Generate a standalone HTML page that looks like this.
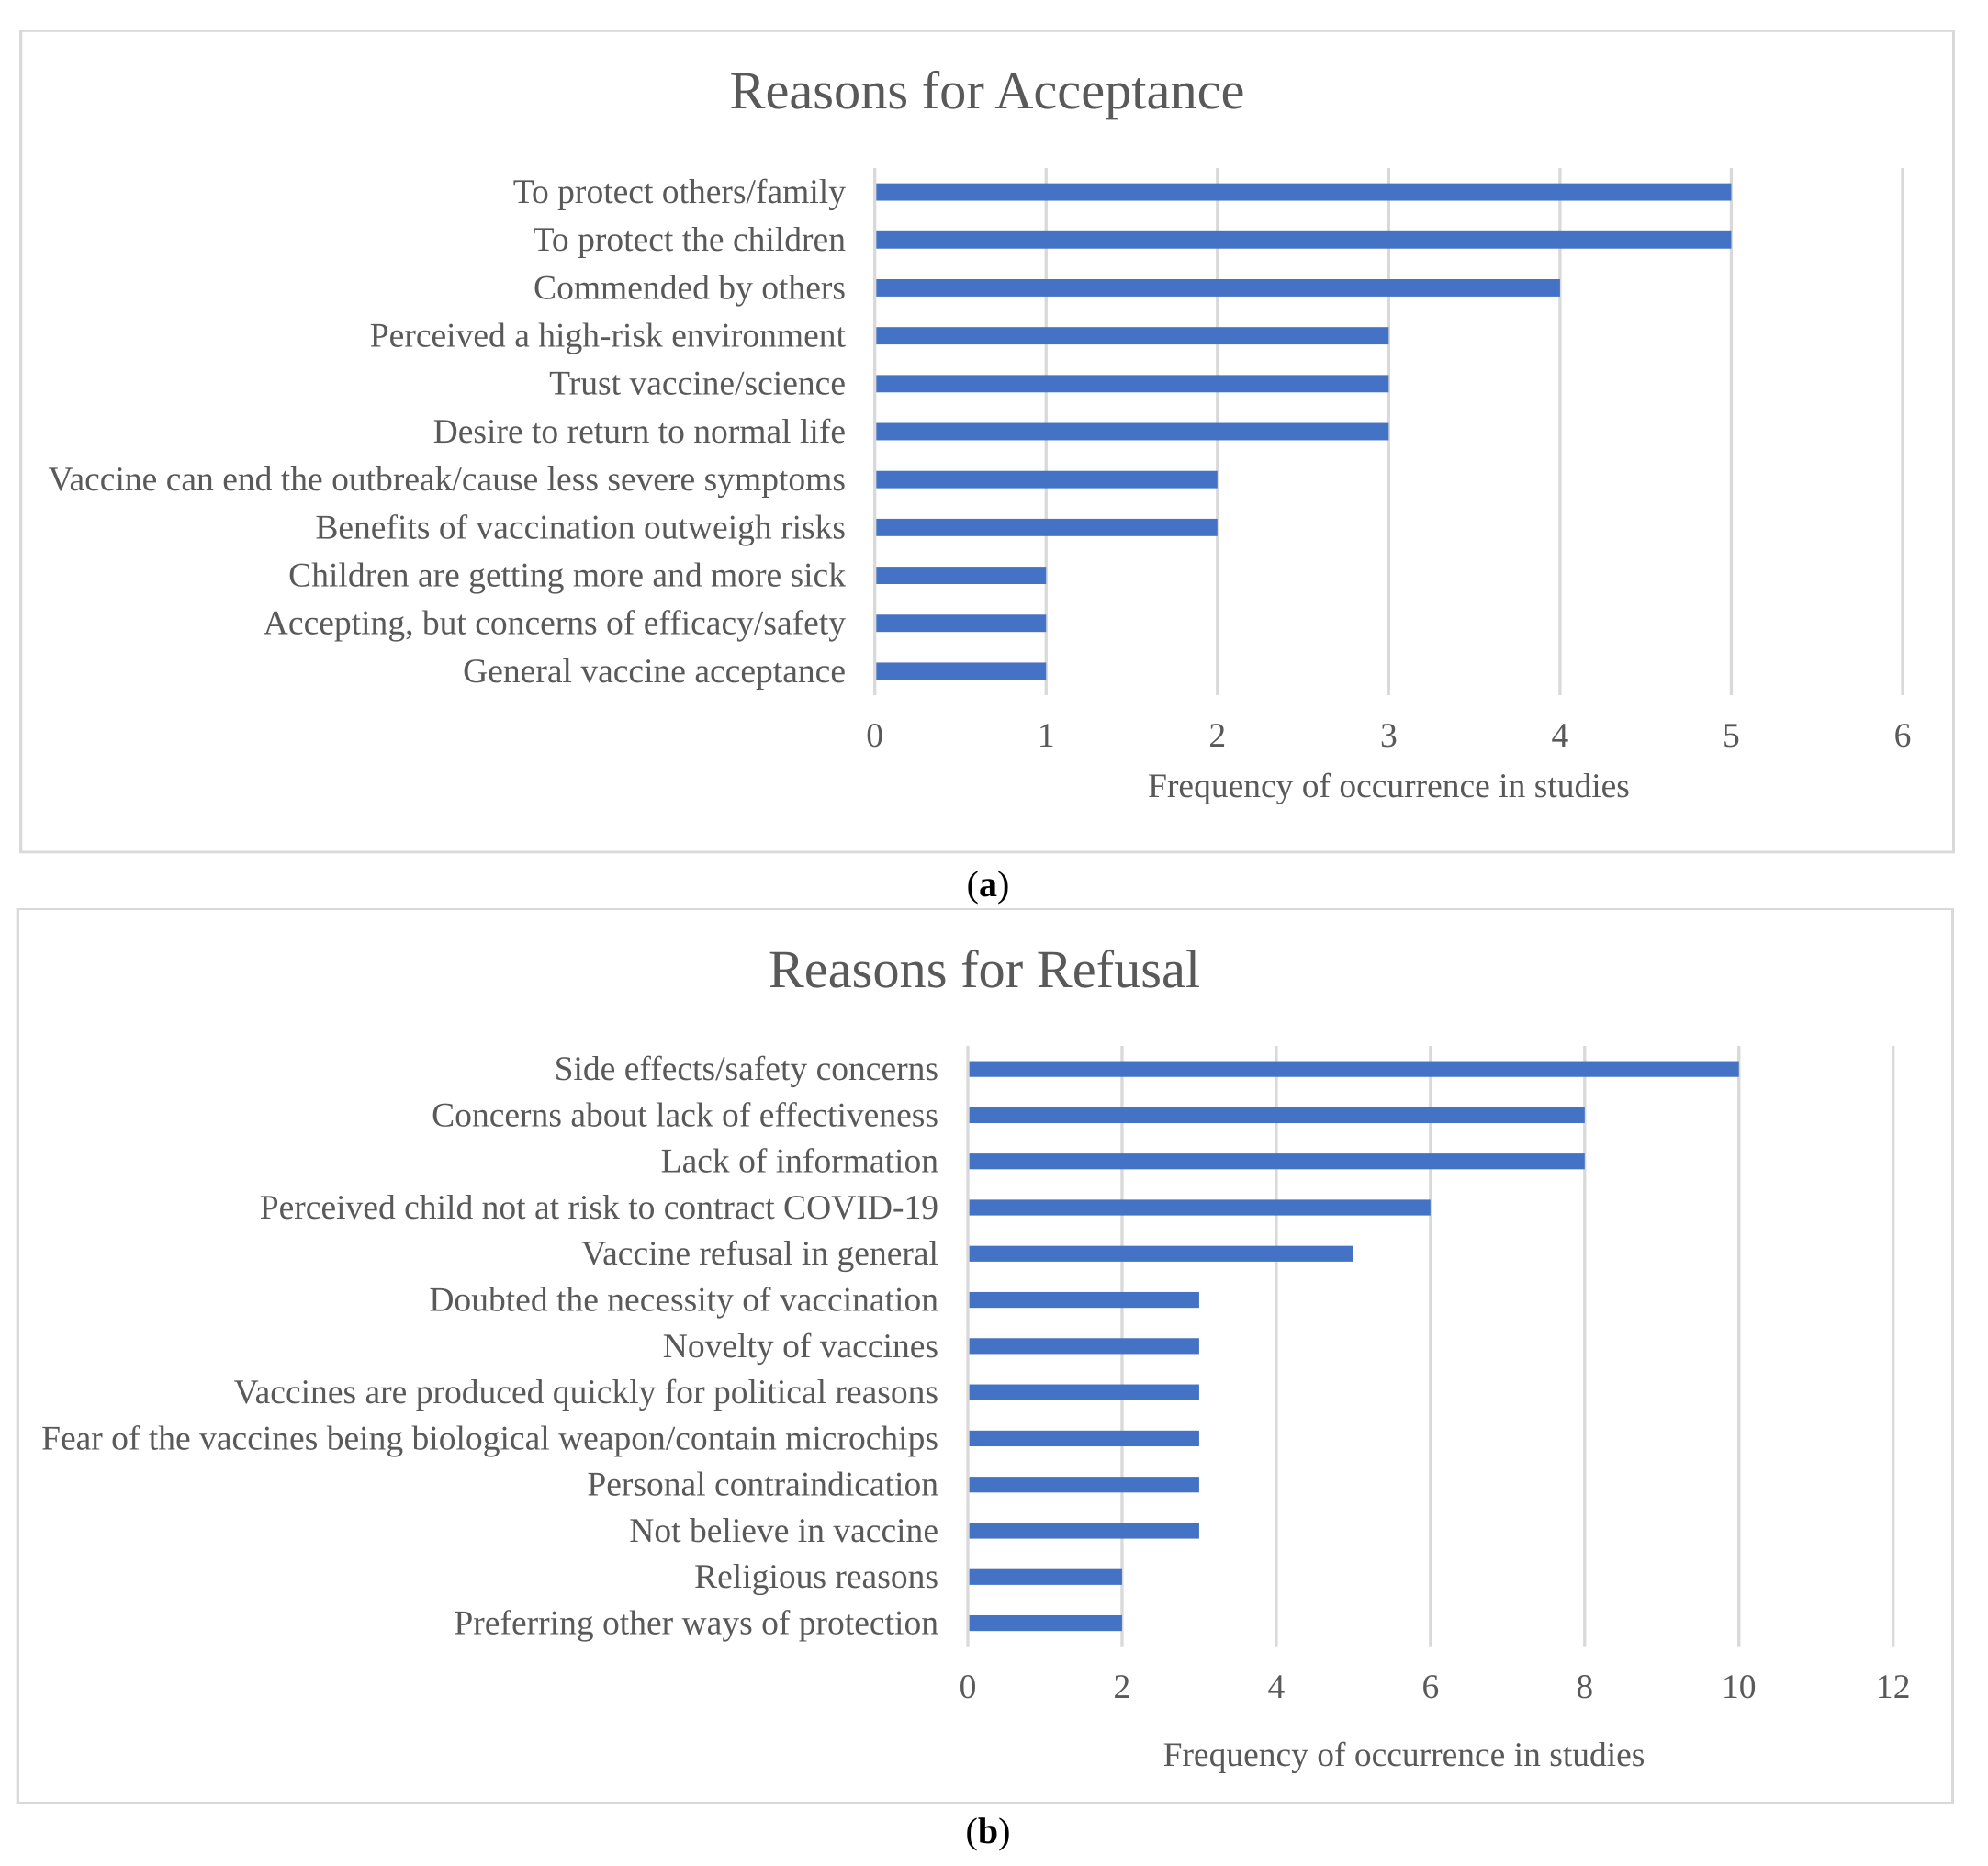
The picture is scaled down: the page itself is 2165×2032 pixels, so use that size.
<!DOCTYPE html>
<html lang="en">
<head>
<meta charset="utf-8">
<title>Reasons for Acceptance and Refusal</title>
<style>
html,body{margin:0;padding:0;background:#fff;}
body{width:2165px;height:2032px;overflow:hidden;}
svg{display:block;}
text{font-family:"Liberation Serif",serif;fill:#595959;text-rendering:geometricPrecision;}
.chart-title{font-size:58.4px;text-anchor:middle;}
.cat{font-size:37.55px;text-anchor:end;}
.tick{font-size:37.55px;text-anchor:middle;}
.axis-title{font-size:37.5px;text-anchor:middle;}
.caption{font-size:40px;text-anchor:middle;fill:#000;}
.frame{fill:#d9d9d9;}
</style>
</head>
<body>
<svg id="fig" xmlns="http://www.w3.org/2000/svg" width="2165" height="2032" viewBox="0 0 2165 2032">
  <g>
    <rect class="frame" x="21" y="33" width="3.3" height="896"/>
    <rect class="frame" x="21" y="33" width="2108" height="1.8"/>
    <rect class="frame" x="2126" y="33" width="3" height="896"/>
    <rect class="frame" x="21" y="926.5" width="2108" height="2.8"/>
  </g>
  <text class="chart-title" x="1075" y="118">Reasons for Acceptance</text>
  <g id="chartA"></g>
  <text class="axis-title" x="1512.5" y="868">Frequency of occurrence in studies</text>
  <text class="caption" x="1076" y="976">(<tspan font-weight="bold" style="fill:#000">a</tspan>)</text>

  <g>
    <rect class="frame" x="17.7" y="989" width="3.3" height="975"/>
    <rect class="frame" x="17.7" y="989" width="2110" height="2"/>
    <rect class="frame" x="2125" y="989" width="3" height="975"/>
    <rect class="frame" x="17.7" y="1962" width="2110" height="2"/>
  </g>
  <text class="chart-title" x="1072" y="1075">Reasons for Refusal</text>
  <g id="chartB"></g>
  <text class="axis-title" x="1529" y="1923">Frequency of occurrence in studies</text>
  <text class="caption" x="1076" y="2007">(<tspan font-weight="bold" style="fill:#000">b</tspan>)</text>
</svg>
<script>
const acceptanceCategories = [
  "To protect others/family",
  "To protect the children",
  "Commended by others",
  "Perceived a high-risk environment",
  "Trust vaccine/science",
  "Desire to return to normal life",
  "Vaccine can end the outbreak/cause less severe symptoms",
  "Benefits of vaccination outweigh risks",
  "Children are getting more and more sick",
  "Accepting, but concerns of efficacy/safety",
  "General vaccine acceptance"
];
const acceptanceValues = [5, 5, 4, 3, 3, 3, 2, 2, 1, 1, 1];
const acceptanceTicks = [0, 1, 2, 3, 4, 5, 6];

const refusalCategories = [
  "Side effects/safety concerns",
  "Concerns about lack of effectiveness",
  "Lack of information",
  "Perceived child not at risk to contract COVID-19",
  "Vaccine refusal in general",
  "Doubted the necessity of vaccination",
  "Novelty of vaccines",
  "Vaccines are produced quickly for political reasons",
  "Fear of the vaccines being biological weapon/contain microchips",
  "Personal contraindication",
  "Not believe in vaccine",
  "Religious reasons",
  "Preferring other ways of protection"
];
const refusalValues = [10, 8, 8, 6, 5, 3, 3, 3, 3, 3, 3, 2, 2];
const refusalTicks = [0, 2, 4, 6, 8, 10, 12];

const NS = "http://www.w3.org/2000/svg";

function drawChart(root, prefix, categories, values, ticks, opt) {
  const max = ticks[ticks.length - 1];
  const xScale = function (v) { return opt.x0 + (v / max) * (opt.x1 - opt.x0); };
  const band = (opt.yBottom - opt.yTop) / categories.length;
  const yCenter = function (i) { return opt.yTop + band * (i + 0.5); };
  const gridW = 3.3;

  ticks.forEach(function (t) {
    const line = document.createElementNS(NS, "rect");
    
    
    line.setAttribute("x", xScale(t) - gridW / 2);
    line.setAttribute("y", opt.yTop);
    line.setAttribute("width", gridW);
    line.setAttribute("height", opt.yBottom - opt.yTop);
    line.setAttribute("fill", "#d9d9d9");
    root.appendChild(line);

    const label = document.createElementNS(NS, "text");
    
    
    label.setAttribute("class", "tick");
    label.setAttribute("x", xScale(t));
    label.setAttribute("y", opt.tickY);
    label.textContent = String(t);
    root.appendChild(label);
  });

  categories.forEach(function (name, i) {
    const label = document.createElementNS(NS, "text");
    
    
    label.setAttribute("class", "cat");
    label.setAttribute("x", opt.labelX);
    label.setAttribute("y", yCenter(i) + 11.9);
    label.textContent = name;
    root.appendChild(label);

    const startX = xScale(0) + gridW / 2;
    const bar = document.createElementNS(NS, "rect");
    
    
    bar.setAttribute("x", startX);
    bar.setAttribute("y", yCenter(i) - opt.barH / 2);
    bar.setAttribute("width", Math.max(0, xScale(values[i]) - startX));
    bar.setAttribute("height", opt.barH);
    bar.setAttribute("fill", "#4472c4");
    root.appendChild(bar);
  });
}

drawChart(document.getElementById("chartA"), "a", acceptanceCategories, acceptanceValues, acceptanceTicks, {
  x0: 952.7, x1: 2072, yTop: 183, yBottom: 757, barH: 18.9, labelX: 921, tickY: 813
});
drawChart(document.getElementById("chartB"), "b", refusalCategories, refusalValues, refusalTicks, {
  x0: 1054, x1: 2061.7, yTop: 1139, yBottom: 1792.7, barH: 17.2, labelX: 1022, tickY: 1849
});
</script>
</body>
</html>
